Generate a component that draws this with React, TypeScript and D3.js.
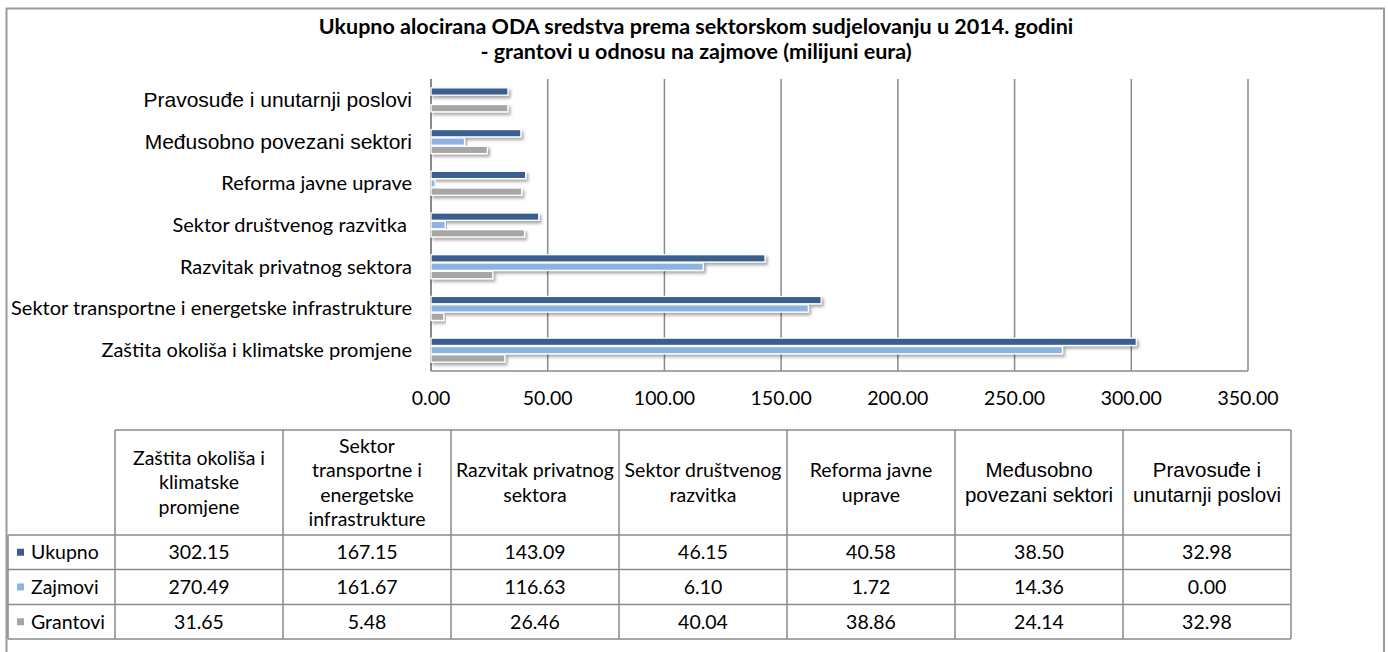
import React from "react";
import * as d3 from "d3";

const title1 = "Ukupno alocirana ODA sredstva prema sektorskom sudjelovanju u 2014. godini";
const title2 = "- grantovi u odnosu na zajmove (milijuni eura)";

const categories = [
  "Zaštita okoliša i klimatske promjene",
  "Sektor transportne i energetske infrastrukture",
  "Razvitak privatnog sektora",
  "Sektor društvenog razvitka ",
  "Reforma javne uprave",
  "Međusobno povezani sektori",
  "Pravosuđe i unutarnji poslovi",
];
const tableHeaders = [
  ["Zaštita okoliša i", "klimatske", "promjene"],
  ["Sektor", "transportne i", "energetske", "infrastrukture"],
  ["Razvitak privatnog", "sektora"],
  ["Sektor društvenog", "razvitka"],
  ["Reforma javne", "uprave"],
  ["Međusobno", "povezani sektori"],
  ["Pravosuđe i", "unutarnji poslovi"],
];
const arialCats = [5, 6];

const seriesNames = ["Ukupno", "Zajmovi", "Grantovi"];
const ukupno = [302.15, 167.15, 143.09, 46.15, 40.58, 38.5, 32.98];
const zajmovi = [270.49, 161.67, 116.63, 6.1, 1.72, 14.36, 0.0];
const grantovi = [31.65, 5.48, 26.46, 40.04, 38.86, 24.14, 32.98];
const seriesValues = [ukupno, zajmovi, grantovi];
const seriesColors = ["#395E8E", "#8DB3E2", "#A6A6A6"];
const xTicks = [0, 50, 100, 150, 200, 250, 300, 350];

const CAL = "Lato, 'Open Sans', sans-serif";
const ARIAL = "'Liberation Sans', Arial, sans-serif";

export default function App() {
  const x = d3.scaleLinear().domain([0, 350]).range([431, 1248]);
  const idx = categories.map((_, i) => i);
  const y = d3
    .scaleBand<number>()
    .domain([...idx].reverse())
    .range([79, 371])
    .paddingInner(0.4)
    .paddingOuter(0.2);
  const ys = d3.scaleBand<number>().domain([0, 1, 2]).range([0, y.bandwidth()]);

  const colX = d3.range(8).map((i) => 115 + i * 168);
  const rowY = [430, 535, 569.5, 604.5, 639];

  return (
    <svg
      width={1388}
      height={652}
      style={{ position: "absolute", left: 0, top: 0, background: "#fff" }}
    >
      <defs>
        <filter id="sh" x="-5%" y="-50%" width="115%" height="250%">
          <feDropShadow dx="2" dy="2.5" stdDeviation="1.6" floodColor="#000" floodOpacity="0.35" />
        </filter>
      </defs>
      <rect x={6.5} y={8.5} width={1377.5} height={660} fill="#fff" stroke="#9a9a9a" strokeWidth={2} />

      {/* title */}
      <text x={696} y={34} textAnchor="middle" fontFamily={CAL} fontWeight="bold" fontSize={21.5} fill="#000">
        {title1}
      </text>
      <text x={696} y={59} textAnchor="middle" fontFamily={CAL} fontWeight="bold" fontSize={21.5} fill="#000">
        {title2}
      </text>

      {/* gridlines */}
      {xTicks.slice(1).map((t) => (
        <line key={t} x1={x(t)} x2={x(t)} y1={79} y2={371} stroke="#8a8a8a" strokeWidth={1.5} />
      ))}
      <line x1={x(0)} x2={x(350)} y1={371} y2={371} stroke="#8a8a8a" strokeWidth={1.5} />
      <line x1={x(0)} x2={x(0)} y1={79} y2={371} stroke="#8a8a8a" strokeWidth={2} />

      {/* bars */}
      {idx.map((ci) =>
        seriesValues.map((vals, si) => {
          const v = vals[ci];
          const y0 = (y(ci) as number) + (ys(si) as number);
          const w = x(v) - x(0);
          return (
            <rect
              key={ci + "-" + si}
              x={x(0)}
              y={y0 + 0.5}
              width={Math.max(w, 0)}
              height={ys.bandwidth() - 1}
              fill={seriesColors[si]}
              stroke="#fff"
              strokeWidth={1.3}
              filter="url(#sh)"
            />
          );
        })
      )}

      {/* y labels */}
      {idx.map((ci) => {
        const isArial = arialCats.includes(ci);
        return (
          <text
            key={"yl" + ci}
            x={412}
            y={(y(ci) as number) + y.bandwidth() / 2}
            dy="0.35em"
            textAnchor="end"
            fontFamily={isArial ? ARIAL : CAL}
            fontSize={isArial ? 21 : 20}
            fill="#000"
            style={{ whiteSpace: "pre" }}
          >
            {categories[ci]}
          </text>
        );
      })}

      {/* x tick labels */}
      {xTicks.map((t) => (
        <text key={"xt" + t} x={x(t)} y={398} dy="0.35em" textAnchor="middle" fontFamily={CAL} fontSize={19.5} fill="#000">
          {d3.format(".2f")(t)}
        </text>
      ))}

      {/* table */}
      <g stroke="#8a8a8a" strokeWidth={1.5}>
        <line x1={colX[0]} x2={colX[7]} y1={rowY[0]} y2={rowY[0]} />
        {rowY.slice(1).map((ry) => (
          <line key={"h" + ry} x1={8} x2={colX[7]} y1={ry} y2={ry} />
        ))}
        {colX.map((cx) => (
          <line key={"v" + cx} x1={cx} x2={cx} y1={rowY[0]} y2={rowY[4]} />
        ))}
        <line x1={8} x2={8} y1={rowY[1]} y2={rowY[4]} />
      </g>
      {tableHeaders.map((lines, ci) => {
        const cx = (colX[ci] + colX[ci + 1]) / 2;
        const cy = (rowY[0] + rowY[1]) / 2;
        const lh = 24.5;
        const isArial = arialCats.includes(ci);
        return lines.map((ln, li) => (
          <text
            key={"th" + ci + li}
            x={cx}
            y={cy + (li - (lines.length - 1) / 2) * lh}
            dy="0.35em"
            textAnchor="middle"
            fontFamily={isArial ? ARIAL : CAL}
            fontSize={isArial ? 20.5 : 19.5}
            fill="#000"
          >
            {ln}
          </text>
        ));
      })}
      {seriesNames.map((s, si) => {
        const cy = (rowY[si + 1] + rowY[si + 2]) / 2;
        return (
          <g key={"row" + si}>
            <rect x={17} y={cy - 3.5} width={7} height={7} fill={seriesColors[si]} />
            <text x={31} y={cy} dy="0.35em" fontFamily={CAL} fontSize={19.5} fill="#000">
              {s}
            </text>
            {seriesValues[si].map((v, ci) => (
              <text
                key={"c" + ci}
                x={(colX[ci] + colX[ci + 1]) / 2}
                y={cy}
                dy="0.35em"
                textAnchor="middle"
                fontFamily={CAL}
                fontSize={19.5}
                fill="#000"
              >
                {d3.format(".2f")(v)}
              </text>
            ))}
          </g>
        );
      })}
    </svg>
  );
}
